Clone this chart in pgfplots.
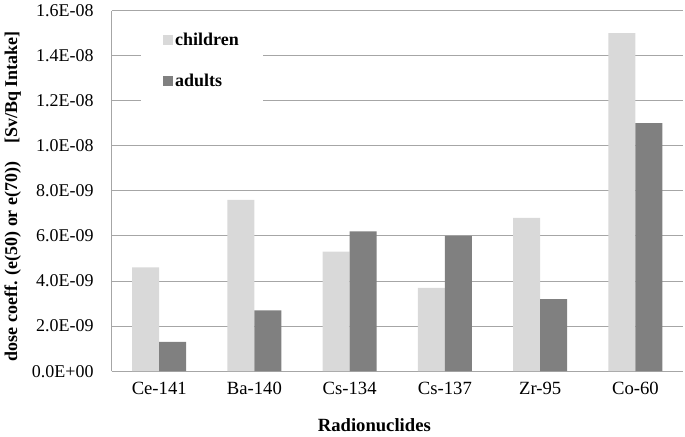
\documentclass[border=0pt]{standalone}
\usepackage{fontspec}
\setmainfont{Liberation Serif}
\usepackage{pgfplots}
\pgfplotsset{compat=1.18}
\definecolor{child}{HTML}{D9D9D9}
\definecolor{adult}{HTML}{808080}
\definecolor{gridc}{HTML}{A6A6A6}
\pgfplotsset{sqleg/.style={legend image code/.code={\fill[##1] (0pt,-3.75pt) rectangle (7.5pt,3.75pt);}}}
\begin{document}
\begin{tikzpicture}
\begin{axis}[
  scale only axis, width=429pt, height=270.75pt,
  xmin=-0.5, xmax=5.5, ymin=0, ymax=1.6e-8,
  ybar=0pt, bar width=20.25pt,
  xtick={0,1,2,3,4,5},
  xticklabels={Ce-141,Ba-140,Cs-134,Cs-137,Zr-95,Co-60},
  ytick={0,2e-9,4e-9,6e-9,8e-9,1e-8,1.2e-8,1.4e-8,1.6e-8},
  yticklabels={0.0E+00,2.0E-09,4.0E-09,6.0E-09,8.0E-09,1.0E-08,1.2E-08,1.4E-08,1.6E-08},
  scaled y ticks=false,
  ymajorgrids, grid style={gridc, line width=0.75pt},
  axis x line*=bottom, axis y line*=left,
  axis line style={gridc, line width=0.75pt},
  major tick length=0pt,
  tick label style={black},
  yticklabel style={font=\fontsize{13.5}{15}\selectfont, xshift=-10pt},
  xticklabel style={font=\fontsize{14}{16}\selectfont, yshift=-5pt},
  xlabel={Radionuclides},
  xlabel style={font=\fontsize{14}{16}\selectfont\bfseries, at={(axis description cs:0.4598,-0.1496)}, anchor=center},
  ylabel={dose coeff. (e(50) or e(70))\hspace{10pt} [Sv/Bq Intake]},
  ylabel style={font=\fontsize{13.5}{16}\selectfont\bfseries, at={(axis description cs:-0.1731,0.4848)}, anchor=center},
  legend style={draw=none, fill=white, font=\fontsize{13.5}{15}\selectfont\bfseries,
    at={(axis description cs:0.1582,0.8615)}, anchor=center,
    row sep=16pt, inner xsep=16pt, inner ysep=12pt},
  legend cell align=left,
]
\addplot[fill=child, draw=none, sqleg]
  coordinates {(0,4.6e-9) (1,7.6e-9) (2,5.3e-9) (3,3.7e-9) (4,6.8e-9) (5,1.5e-8)};
\addlegendentry{children}
\addplot[fill=adult, draw=none, sqleg]
  coordinates {(0,1.3e-9) (1,2.7e-9) (2,6.2e-9) (3,6.0e-9) (4,3.2e-9) (5,1.1e-8)};
\addlegendentry{adults}
\end{axis}
\path ([shift={(-83.25pt,-45pt)}]current axis.south west) rectangle ([shift={(1.5pt,7.5pt)}]current axis.north east);
\end{tikzpicture}
\end{document}
